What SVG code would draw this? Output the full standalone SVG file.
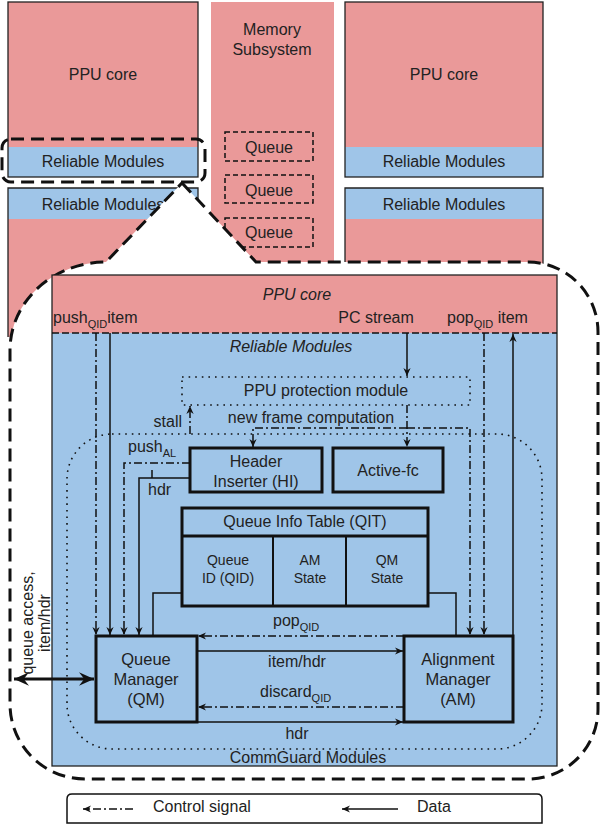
<svg xmlns="http://www.w3.org/2000/svg" width="600" height="826" viewBox="0 0 600 826">
<style>
text{font-family:"Liberation Sans",Arial,sans-serif;font-size:16px;fill:#222}
.m{text-anchor:middle}
.e{text-anchor:end}
.i{font-style:italic}
.s{font-size:11px}
.sm{font-size:14px}
.pk{fill:#EA9999}
.bl{fill:#9FC5E8}
.thin{fill:none;stroke:#222;stroke-width:1.3}
.thick{fill:none;stroke:#111;stroke-width:3}
.ln{fill:none;stroke:#111;stroke-width:1.5}
.cd{fill:none;stroke:#111;stroke-width:1.5;stroke-dasharray:8,3,2,3}
.dot{fill:none;stroke:#111;stroke-width:1.6;stroke-dasharray:1.6,5}
.qd{fill:none;stroke:#111;stroke-width:1.5;stroke-dasharray:5,3}
.bd{fill:none;stroke:#111;stroke-width:3;stroke-dasharray:13,7}
</style>
<defs>
<marker id="a" viewBox="0 0 10 10" refX="10" refY="5" markerWidth="8" markerHeight="8" markerUnits="userSpaceOnUse" orient="auto-start-reverse"><path d="M0,0.5 L10,5 L0,9.5 L3,5 z" fill="#111"/></marker>
<marker id="A" viewBox="0 0 10 10" refX="10" refY="5" markerWidth="15" markerHeight="15" markerUnits="userSpaceOnUse" orient="auto-start-reverse"><path d="M0,0.5 L10,5 L0,9.5 L3.5,5 z" fill="#111"/></marker>
</defs>

<!-- background system -->
<g id="ppu-left-top">
<rect x="8" y="2" width="190" height="145" class="pk"/>
<rect x="8" y="147" width="190" height="30" class="bl"/>
<rect x="8" y="2" width="190" height="175" class="thin"/>
<text x="103" y="80" class="m">PPU core</text>
<text x="103" y="167" class="m">Reliable Modules</text>
</g>
<g id="ppu-right-top">
<rect x="345" y="2" width="198" height="145" class="pk"/>
<rect x="345" y="147" width="198" height="30" class="bl"/>
<rect x="345" y="2" width="198" height="175" class="thin"/>
<text x="444" y="80" class="m">PPU core</text>
<text x="444" y="167" class="m">Reliable Modules</text>
</g>
<g id="ppu-left-bottom">
<rect x="8" y="188" width="190" height="31" class="bl"/>
<rect x="8" y="219" width="190" height="118" class="pk"/>
<path d="M8,337 V188 H198 V337" class="thin"/>
<text x="103" y="210" class="m">Reliable Modules</text>
</g>
<g id="ppu-right-bottom">
<rect x="345" y="188" width="198" height="31" class="bl"/>
<rect x="345" y="219" width="198" height="50" class="pk"/>
<path d="M345,269 V188 H543 V269" class="thin"/>
<text x="444" y="210" class="m">Reliable Modules</text>
</g>
<g id="memory">
<rect x="211" y="2" width="123" height="262" class="pk"/>
<text x="272" y="35" class="m">Memory</text>
<text x="272" y="55" class="m">Subsystem</text>
</g>
<g id="queue1"><rect x="225" y="132" width="88" height="29" class="qd"/><text x="269" y="153" class="m">Queue</text></g>
<g id="queue2"><rect x="225" y="175" width="88" height="28" class="qd"/><text x="269" y="196" class="m">Queue</text></g>
<g id="queue3"><rect x="225" y="218" width="88" height="29" class="qd"/><text x="269" y="238" class="m">Queue</text></g>

<!-- zoom callout -->
<g id="callout">
<path d="M182,183 L256,262 H528 A70,70 0 0 1 598,332 V709 A70,70 0 0 1 528,779 H85 A75,75 0 0 1 10,704 V350 A96,88 0 0 1 106,262 Z" fill="#fff"/>
<path d="M182,183 L256,262 H528 A70,70 0 0 1 598,332 V709 A70,70 0 0 1 528,779 H85 A75,75 0 0 1 10,704 V350 A96,88 0 0 1 106,262 Z" class="bd"/>
<rect x="2" y="139" width="203" height="43" rx="9" class="bd"/>
</g>

<!-- detailed view -->
<g id="detail">
<rect x="52" y="275" width="505" height="58" class="pk"/>
<rect x="52" y="333" width="505" height="433" class="bl"/>
<rect x="52" y="275" width="505" height="491" class="thin"/>
<line x1="52" y1="333" x2="557" y2="333" stroke="#111" stroke-width="1.5" stroke-dasharray="7,3"/>
<text x="297" y="300" class="m i">PPU core</text>
<text x="291" y="352" class="m i">Reliable Modules</text>
<text x="53" y="323">push<tspan class="s" dy="5">QID</tspan><tspan dy="-5">item</tspan></text>
<text x="376" y="323" class="m">PC stream</text>
<text x="447" y="323">pop<tspan class="s" dy="5">QID</tspan><tspan dy="-5"> item</tspan></text>
</g>

<g id="commguard">
<rect x="67" y="434" width="475" height="315" rx="45" class="dot"/>
<text x="308" y="763" class="m">CommGuard Modules</text>
</g>

<g id="ppu-protection">
<rect x="182" y="377" width="288" height="28" class="dot"/>
<text x="326" y="396" class="m">PPU protection module</text>
</g>

<g id="header-inserter">
<rect x="190" y="448" width="132" height="44" class="thick"/>
<text x="256" y="467" class="m">Header</text>
<text x="256" y="487" class="m">Inserter (HI)</text>
</g>

<g id="active-fc">
<rect x="333" y="448" width="110" height="44" class="thick"/>
<text x="388" y="476" class="m">Active-fc</text>
</g>

<g id="qit">
<rect x="182" y="508" width="246" height="98" class="thick"/>
<line x1="182" y1="536" x2="428" y2="536" stroke="#111" stroke-width="3"/>
<line x1="273" y1="536" x2="273" y2="606" stroke="#111" stroke-width="2"/>
<line x1="346" y1="536" x2="346" y2="606" stroke="#111" stroke-width="2"/>
<text x="305" y="527" class="m">Queue Info Table (QIT)</text>
<text x="228" y="565" class="m sm">Queue</text>
<text x="228" y="583" class="m sm">ID (QID)</text>
<text x="310" y="565" class="m sm">AM</text>
<text x="310" y="583" class="m sm">State</text>
<text x="387" y="565" class="m sm">QM</text>
<text x="387" y="583" class="m sm">State</text>
</g>

<g id="queue-manager">
<rect x="96" y="636" width="101" height="86" class="thick"/>
<text x="146" y="665" class="m" style="font-size:16.5px">Queue</text>
<text x="146" y="685" class="m" style="font-size:16.5px">Manager</text>
<text x="146" y="705" class="m" style="font-size:16.5px">(QM)</text>
</g>

<g id="alignment-manager">
<rect x="404" y="636" width="109" height="86" class="thick"/>
<text x="458" y="665" class="m" style="font-size:16.5px">Alignment</text>
<text x="458" y="685" class="m" style="font-size:16.5px">Manager</text>
<text x="458" y="705" class="m" style="font-size:16.5px">(AM)</text>
</g>

<g id="connectors">
<!-- from PPU core -->
<line x1="96" y1="333" x2="96" y2="635" class="cd" marker-end="url(#a)"/>
<line x1="110" y1="333" x2="110" y2="635" class="ln" marker-end="url(#a)"/>
<line x1="407" y1="333" x2="407" y2="376" class="ln" marker-end="url(#a)"/>
<line x1="484" y1="333" x2="484" y2="635" class="cd" marker-end="url(#a)"/>
<line x1="513" y1="635" x2="513" y2="334" class="ln" marker-end="url(#a)"/>
<!-- stall -->
<line x1="190" y1="434" x2="190" y2="406" class="cd" marker-end="url(#a)"/>
<text x="182" y="427" class="e">stall</text>
<!-- new frame computation -->
<text x="311" y="423" class="m">new frame computation</text>
<line x1="407" y1="405" x2="407" y2="447" class="cd" marker-end="url(#a)"/>
<polyline points="407,428 253,428 253,447" class="cd" marker-end="url(#a)"/>
<polyline points="407,428 470,428 470,635" class="cd" marker-end="url(#a)"/>
<!-- from HI -->
<polyline points="190,463 124,463 124,635" class="cd" marker-end="url(#a)"/>
<polyline points="190,478 139,478 139,635" class="ln" marker-end="url(#a)"/>
<line x1="152" y1="470" x2="152" y2="478" class="ln" stroke-width="1"/>
<text x="128" y="452">push<tspan class="s" dy="5">AL</tspan></text>
<text x="148" y="495">hdr</text>
<!-- from QIT -->
<polyline points="182,593 153,593 153,636" class="ln"/>
<polyline points="428,593 456,593 456,636" class="ln"/>
<!-- QM <-> AM -->
<line x1="404" y1="636" x2="198" y2="636" class="cd" marker-end="url(#a)"/>
<text x="273" y="626">pop<tspan class="s" dy="5">QID</tspan></text>
<line x1="197" y1="651" x2="403" y2="651" class="ln" marker-end="url(#a)"/>
<text x="297" y="667" class="m">item/hdr</text>
<line x1="404" y1="707" x2="198" y2="707" class="cd" marker-end="url(#a)"/>
<text x="260" y="697">discard<tspan class="s" dy="5">QID</tspan></text>
<line x1="197" y1="722" x2="403" y2="722" class="ln" marker-end="url(#a)"/>
<text x="297" y="739" class="m">hdr</text>
<!-- queue access -->
<line x1="14" y1="679" x2="94" y2="679" stroke="#111" stroke-width="3" marker-start="url(#A)" marker-end="url(#A)"/>
<text transform="translate(33,623) rotate(-90)" class="m">queue access,</text>
<text transform="translate(50,623) rotate(-90)" class="m">item/hdr</text>
</g>

<g id="legend">
<path d="M67,823 V799 Q67,794 72,794 H537 Q542,794 542,799 V823 Z" fill="#fff" stroke="#111" stroke-width="1.5"/>
<line x1="133" y1="809" x2="83" y2="809" class="cd" marker-end="url(#a)"/>
<text x="153" y="812">Control signal</text>
<line x1="398" y1="809" x2="342" y2="809" class="ln" marker-end="url(#a)"/>
<text x="417" y="812">Data</text>
</g>
</svg>
